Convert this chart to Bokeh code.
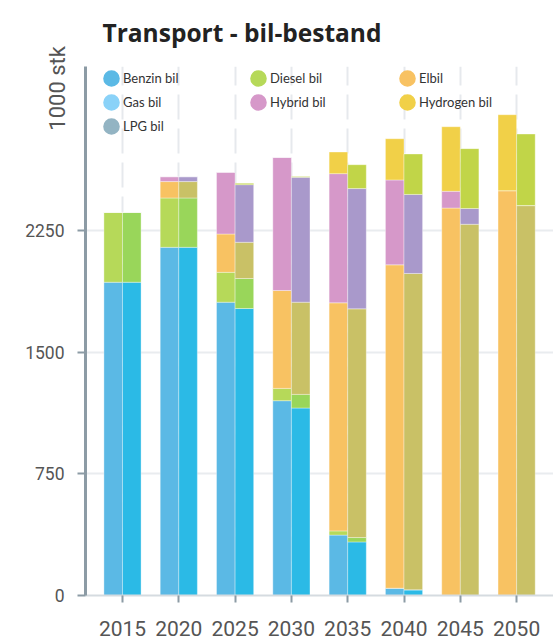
import math
from bokeh.plotting import figure
from bokeh.models import (ColumnDataSource, Range1d, FixedTicker, Legend, LegendItem)
from bokeh.embed import file_html
from bokeh.resources import INLINE

# ---------------- data (1000 stk) ----------------
years = ["2015", "2020", "2025", "2030", "2035", "2040", "2045", "2050"]
series = ["Benzin bil", "Diesel bil", "Elbil", "Hybrid bil", "Hydrogen bil"]

# scenario shown as the left bar of each pair
benzin_a   = [1930, 2145, 1807, 1200, 372, 45, 0, 0]
diesel_a   = [431, 304, 184, 76, 26, 0, 0, 0]
elbil_a    = [0, 101, 236, 603, 1405, 1992, 2387, 2494]
hybrid_a   = [0, 30, 380, 820, 796, 523, 103, 0]
hydrogen_a = [0, 0, 0, 0, 133, 254, 398, 468]

# scenario shown as the right bar of each pair
benzin_b   = [1930, 2145, 1768, 1155, 330, 35, 0, 0]
diesel_b   = [431, 304, 185, 84, 27, 0, 0, 0]
elbil_b    = [0, 101, 223, 568, 1409, 1949, 2287, 2402]
hybrid_b   = [0, 30, 355, 769, 741, 487, 97, 0]
hydrogen_b = [0, 0, 8, 5, 147, 249, 369, 441]

y_ticks = [0, 750, 1500, 2250]

legend_names = ["Benzin bil", "Diesel bil", "Elbil", "Gas bil", "Hybrid bil", "Hydrogen bil", "LPG bil"]
legend_colors = ["#5bb9e5", "#b6d959", "#f8c262", "#8ad2f8", "#d698c9", "#f1d048", "#93b4c3"]

colors_a = ["#5bb9e5", "#b6d959", "#f8c262", "#d698c9", "#f1d048"]
colors_b = ["#2bbae6", "#99d65a", "#c9c166", "#a999cb", "#c1d548"]

# ---------------- layout ----------------
W, H = 553, 641
FL, FR, FT, FB = 85, 553, 65, 595          # frame edges in px
X0, X1 = -0.657, 7.655
Y0, Y1 = 0, 3259

idx = list(range(len(years)))
bw = 0.33
src_a = ColumnDataSource(dict(x=[i - bw / 2 for i in idx],
                              s0=benzin_a, s1=diesel_a, s2=elbil_a, s3=hybrid_a, s4=hydrogen_a))
src_b = ColumnDataSource(dict(x=[i + bw / 2 for i in idx],
                              s0=benzin_b, s1=diesel_b, s2=elbil_b, s3=hybrid_b, s4=hydrogen_b))

p = figure(width=W, height=H, output_backend="svg", toolbar_location=None,
           x_range=Range1d(X0, X1), y_range=Range1d(Y0, Y1),
           min_border_left=FL, min_border_right=W - FR,
           min_border_top=FT, min_border_bottom=H - FB)
p.outline_line_color = None
p.background_fill_color = "white"
p.border_fill_color = "white"

p.title.text = "Transport - bil-bestand"
p.title.align = "left"
p.title.offset = 17
p.title.vertical_align = "top"
p.title.standoff = 31
p.title.text_font = "Open Sans"
p.title.text_font_style = "bold"
p.title.text_font_size = "24.5px"
p.title.text_color = "#222222"

stack = ["s0", "s1", "s2", "s3", "s4"]
p.vbar_stack(stack, x="x", width=bw, color=colors_a, source=src_a,
             line_color="white", line_alpha=0.35, line_width=1)
p.vbar_stack(stack, x="x", width=bw, color=colors_b, source=src_b,
             line_color="white", line_alpha=0.35, line_width=1)

# axes
xa = p.xaxis[0]
xa.ticker = FixedTicker(ticks=idx)
xa.major_label_overrides = {i: y for i, y in zip(idx, years)}
xa.axis_line_color = "#d5dbe0"
xa.axis_line_width = 2
xa.major_tick_line_color = "#8c9ba5"
xa.major_tick_line_width = 2
xa.major_tick_in = 0
xa.major_tick_out = 7
xa.minor_tick_line_color = None
xa.major_label_text_font = "Roboto"
xa.major_label_text_font_size = "21px"
xa.major_label_text_color = "#555555"
xa.major_label_standoff = 18

ya = p.yaxis[0]
ya.ticker = FixedTicker(ticks=y_ticks)
ya.axis_line_color = "#8c9ba5"
ya.axis_line_width = 3
ya.major_tick_line_color = "#8c9ba5"
ya.major_tick_line_width = 2
ya.major_tick_in = 0
ya.major_tick_out = 8
ya.minor_tick_line_color = None
ya.major_label_text_font = "Roboto"
ya.major_label_text_font_size = "17.5px"
ya.major_label_text_color = "#555555"
ya.major_label_standoff = 13
# label sits at the top end of the axis (trailing no-break spaces push the words down)
ya.axis_label = "1000 stk" + "\u00a0" * 8
ya.axis_label_text_font = "Roboto"
ya.axis_label_text_font_size = "22px"
ya.axis_label_text_font_style = "normal"
ya.axis_label_text_color = "#555555"
ya.axis_label_standoff = -48
try:
    ya.axis_label_align = "end"
except Exception:
    pass

# grids
p.ygrid.ticker = FixedTicker(ticks=y_ticks[1:])
p.ygrid.grid_line_color = "#e9ecef"
p.ygrid.grid_line_width = 2
p.xgrid.ticker = FixedTicker(ticks=idx)
p.xgrid.grid_line_color = "#e6e9ed"
p.xgrid.grid_line_width = 2
p.xgrid.grid_line_dash = "25 9"

# legend (circles), three columns; the legend renderers hold no visible point
rend = {}
nan = float("nan")
for n, c in zip(legend_names, legend_colors):
    rend[n] = p.scatter(x=[nan], y=[nan], marker="circle", size=10,
                        fill_color=c, line_color=c, line_width=7)

cols = [["Benzin bil", "Gas bil", "LPG bil"], ["Diesel bil", "Hybrid bil"], ["Elbil", "Hydrogen bil"]]
centers = [111, 258, 407]
G, C1 = 24, 78          # row pitch / glyph box, first row centre (px)
for names, cx in zip(cols, centers):
    n = len(names)
    h = n * G
    top = C1 - G / 2
    lg = Legend(items=[LegendItem(label=nm, renderers=[rend[nm]]) for nm in names],
                location=(cx - G / 2 - FL, FB - (top + h)),
                orientation="vertical", glyph_width=G, glyph_height=G,
                spacing=0, label_standoff=0, padding=0, margin=0,
                border_line_color=None, background_fill_alpha=0,
                label_text_font="Lato", label_text_font_size="13px",
                label_text_color="#333333", label_height=G)
    p.add_layout(lg)

open("out.html", "w").write(file_html(p, INLINE))
